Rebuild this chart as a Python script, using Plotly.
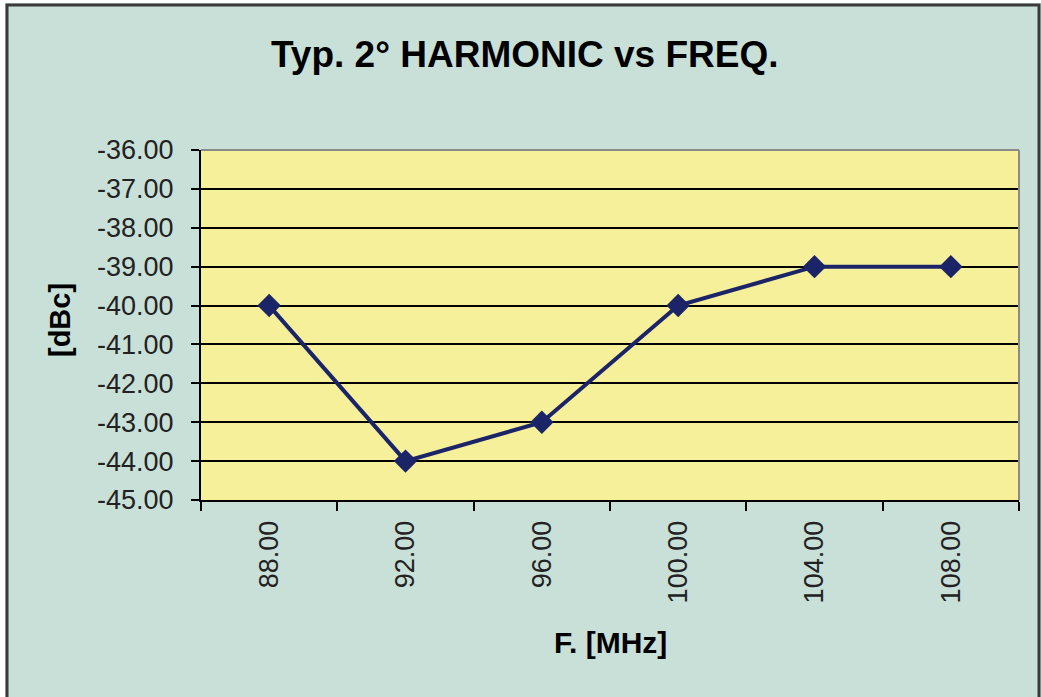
import plotly.graph_objects as go

freq_labels = ["88.00", "92.00", "96.00", "100.00", "104.00", "108.00"]
harmonic_dbc = [-40, -44, -43, -40, -39, -39]
y_ticks = [-45, -44, -43, -42, -41, -40, -39, -38, -37, -36]
y_tick_text = [f"{v:.2f}" for v in y_ticks]

BG = "#C9E0D9"
PLOT_BG = "#F7F09A"
LINE = "#1C2468"
FONT = "Arial, Liberation Sans, sans-serif"

fig = go.Figure()
fig.add_trace(go.Scatter(
    x=freq_labels, y=harmonic_dbc, mode="lines+markers",
    line=dict(color=LINE, width=4),
    marker=dict(symbol="diamond", size=18, color=LINE),
    showlegend=False, hoverinfo="x+y",
))

fig.update_layout(
    width=1041, height=697,
    margin=dict(l=201, r=22, t=150, b=197),
    paper_bgcolor=BG, plot_bgcolor=PLOT_BG,
    font=dict(family=FONT, color="#1a1a1a"),
    xaxis=dict(
        type="category", range=[-0.5, 5.5], showgrid=False,
        tickson="boundaries", ticks="outside", ticklen=9, tickwidth=2, tickcolor="black",
        showline=True, linecolor="black", linewidth=2,
        tickangle=-90, tickfont=dict(size=27, family=FONT, color="#222"),
        ticklabelstandoff=8,
    ),
    yaxis=dict(
        range=[-45, -36], tickvals=y_ticks, ticktext=y_tick_text,
        showgrid=True, gridcolor="black", gridwidth=1.5,
        ticks="outside", ticklen=8, tickwidth=2, tickcolor="black",
        showline=True, linecolor="black", linewidth=2,
        tickfont=dict(size=27, family=FONT, color="#222"),
        ticklabelstandoff=12, zeroline=False,
    ),
    shapes=[
        dict(type="line", xref="paper", yref="paper", x0=0, x1=1, y0=1, y1=1,
             line=dict(color="#8a8a8a", width=2)),
        dict(type="line", xref="paper", yref="paper", x0=1, x1=1, y0=0, y1=1,
             line=dict(color="#8a8a8a", width=2)),
        dict(type="rect", xref="paper", yref="paper",
             x0=(7 - 201) / 818, x1=(1039 - 201) / 818,
             y0=(500 - 720) / 350, y1=(500 - 5) / 350,
             line=dict(color="#3a3a3a", width=3), fillcolor="rgba(0,0,0,0)"),
        dict(type="rect", xref="paper", yref="paper",
             x0=(0 - 201) / 818, x1=(5 - 201) / 818,
             y0=(500 - 720) / 350, y1=(500 + 5) / 350,
             line=dict(width=0), fillcolor="white"),
        dict(type="rect", xref="paper", yref="paper",
             x0=(0 - 201) / 818, x1=(1045 - 201) / 818,
             y0=(500 - 3) / 350, y1=(500 + 5) / 350,
             line=dict(width=0), fillcolor="white"),
    ],
    annotations=[
        dict(text="<b>Typ. 2° HARMONIC vs FREQ.</b>", xref="paper", yref="paper",
             x=(525 - 201) / 818, y=(500 - 54) / 350, showarrow=False,
             xanchor="center", yanchor="middle",
             font=dict(size=37, family=FONT, color="black")),
        dict(text="<b>F. [MHz]</b>", xref="paper", yref="paper",
             x=(610 - 201) / 818, y=(500 - 642) / 350, showarrow=False,
             xanchor="center", yanchor="middle",
             font=dict(size=30, family=FONT, color="black")),
        dict(text="<b>[dBc]</b>", xref="paper", yref="paper",
             x=(60 - 201) / 818, y=(500 - 320) / 350, showarrow=False,
             xanchor="center", yanchor="middle", textangle=-90,
             font=dict(size=29, family=FONT, color="black")),
    ],
)

fig.write_html(
    "out.html",
    config={"displayModeBar": False},
    post_script="document.body.style.margin='0';document.body.style.overflow='hidden';",
)
